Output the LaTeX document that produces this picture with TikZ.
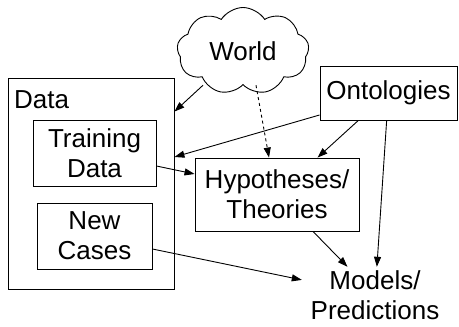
\documentclass[tikz,border=0pt]{standalone}
\usepackage{fontspec}
\setmainfont{Liberation Sans}
\usetikzlibrary{shapes.symbols,arrows.meta}
\begin{document}
\begin{tikzpicture}[x=1pt,y=-1pt,
  every node/.style={font=\fontsize{26}{30}\selectfont, align=center},
  box/.style={draw, line width=0.9pt, inner sep=0pt},
  link/.style={line width=0.9pt, -{Triangle[length=10pt,width=7pt]}},
  world/.style={draw, line width=0.9pt, cloud, cloud puffs=9, cloud puff arc=115,
    aspect=1.5, minimum width=132pt, minimum height=87pt, inner sep=0pt}]
  \useasboundingbox (0,0) rectangle (459,327);

  % data container and its parts
  \node[box, minimum width=166pt, minimum height=211pt] (data) at (91,183.5) {};
  \node[anchor=base west, inner sep=0pt] (datalbl) at (14,108) {Data};
  \node[box, minimum width=123pt, minimum height=66pt] (td) at (94.5,153) {Training\\Data};
  \node[box, minimum width=115pt, minimum height=66pt] (nc) at (94.5,236) {New\\Cases};

  % other sources and results
  \node[world] (world) at (243,51) {World};
  \node[box, minimum width=137pt, minimum height=54pt] (ont) at (388.5,93) {Ontologies};
  \node[box, minimum width=164pt, minimum height=73pt] (hyp) at (277,194.5) {Hypotheses/\\Theories};
  \node[inner sep=0pt, minimum width=146pt, minimum height=56pt] (models) at (375,295) {Models/\\Predictions};

  % connectors
  \draw[link] ([xshift=-40pt]world.south) -- ([yshift=-34pt]data.north east);
  \draw[link, dashed] ([xshift=13pt]world.south) -- ([xshift=-8pt]hyp.north);
  \draw[link] ([yshift=-22pt]ont.west) -- ([yshift=26.5pt]data.east);
  \draw[link] (ont) -- (hyp);
  \draw[link] (ont) -- (models);
  \draw[link] ([yshift=-13pt]td.east) -- ([yshift=20.5pt]hyp.west);
  \draw[link] (hyp) -- (models);
  \draw[link] ([yshift=-13pt]nc.east) -- (models);
\end{tikzpicture}
\end{document}
